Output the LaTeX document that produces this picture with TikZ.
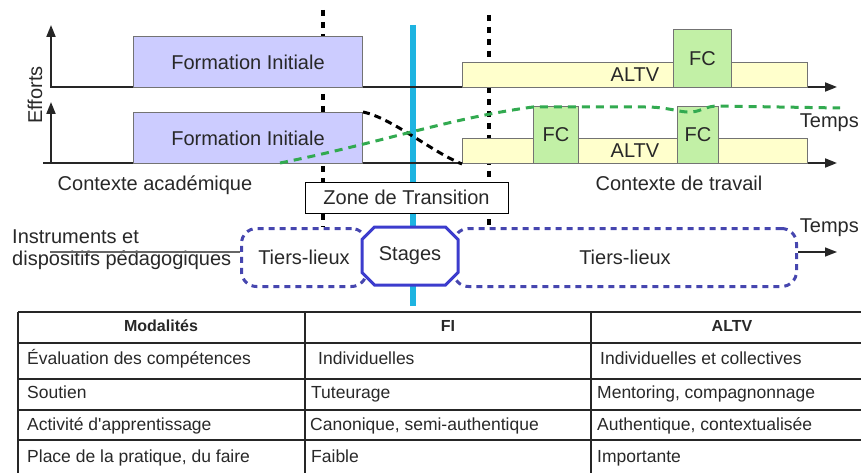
\documentclass[tikz,border=0pt]{standalone}
\usepackage{fontspec}
\setmainfont{Liberation Sans}
\usetikzlibrary{arrows.meta,positioning,shapes.misc}
\definecolor{filav}{RGB}{204,204,255}
\definecolor{altvyel}{RGB}{255,255,204}
\definecolor{fcgreen}{RGB}{194,240,166}
\definecolor{tlblue}{RGB}{70,70,175}
\definecolor{stblue}{RGB}{60,60,205}
\definecolor{cutcyan}{RGB}{30,180,225}
\definecolor{effgreen}{RGB}{50,170,80}
\definecolor{txtgray}{RGB}{40,40,40}

\begin{document}
\begin{tikzpicture}[x=1pt,y=-1pt,
    lbl/.style={font=\fontsize{20}{22}\selectfont, text=txtgray, inner sep=0pt},
    bar/.style={lbl, draw=black!55, line width=1pt, anchor=north west},
    fibox/.style={bar, fill=filav},
    altvbox/.style={bar, fill=altvyel},
    fcbox/.style={bar, fill=fcgreen},
    tlbox/.style={lbl, draw=tlblue, line width=3pt, dash pattern=on 6pt off 5pt,
                rounded corners=15pt, anchor=north west, minimum height=58pt},
    stagebox/.style={lbl, chamfered rectangle, chamfered rectangle xsep=13pt,
                draw=stblue, fill=white, line width=3pt, minimum width=96pt, minimum height=58pt},
    axis/.style={draw=black!85, line width=1.8pt, -{Triangle[length=12pt,width=9pt]}},
    cut/.style={draw=black, line width=3.2pt, dash pattern=on 6pt off 6pt},
    tabline/.style={draw=black!85, line width=1.2pt},
    hdr/.style={font=\fontsize{16}{18}\selectfont\bfseries, text=txtgray, inner sep=0pt, anchor=base},
    cell/.style={font=\fontsize{17.5}{20}\selectfont, text=txtgray, inner sep=0pt, anchor=base west}
  ]
  \useasboundingbox (0,0) rectangle (861,473);

  % context boundaries and the transition axis
  \draw[cut] (323,10) -- (323,227);
  \draw[cut] (489,15) -- (489,227);
  \draw[cutcyan, line width=6pt] (413,25) -- (413,306);

  % efforts axes
  \coordinate (o1) at (51,87);
  \coordinate (o2) at (51,163);
  \draw[axis] (o1) -- (51,25);
  \draw[axis] (50,87) -- (837,87);
  \draw[axis] (o2) -- (51,102);
  \draw[axis] (43,163) -- (837,163);
  \node[lbl, rotate=90] (eff) at (35,95) {Efforts};

  % upper track
  \node[fibox, minimum width=229pt, minimum height=51pt] (fi1) at (133,36) {Formation Initiale};
  \node[altvbox, minimum width=345pt, minimum height=25pt] (altv1) at (462,62) {ALTV};
  \node[fcbox, minimum width=58pt, minimum height=58pt] (fc1) at (673,29) {FC};

  % lower track
  \node[fibox, minimum width=229pt, minimum height=51pt] (fi2) at (133,112) {Formation Initiale};
  \node[altvbox, minimum width=345pt, minimum height=25pt] (altv2) at (462,138) {ALTV};
  \node[fcbox, minimum width=45pt, minimum height=57pt] (fc2) at (533,106) {FC};
  \node[fcbox, minimum width=41pt, minimum height=57pt] (fc3) at (677,106) {FC};

  % effort curves
  \draw[black, line width=3pt, dash pattern=on 7pt off 5pt]
    (fi2.north east) .. controls (392,118) and (432,152) .. (altv2.south west);
  \coordinate (g0) at (280,163);
  \coordinate (g1) at (840,108);
  \draw[effgreen, line width=3pt, dash pattern=on 8pt off 6pt]
    (g0) .. controls (380,143) and (450,118) .. (533,107) -- (645,107)
    .. controls (670,107) and (680,113) .. (692,112)
    .. controls (702,111) and (706,106) .. (718,106) -- (g1);

  \node[lbl, anchor=east] (temps1) at (859,123) {Temps};
  \node[lbl] (ctxa) at (155,185) {Contexte académique};
  \node[lbl] (ctxt) at (679,183) {Contexte de travail};
  \node[lbl, draw=black, fill=white, line width=1pt, minimum width=203pt, minimum height=31pt]
    (zone) at (406.5,197.5) {Zone de Transition};

  % instruments along time
  \node[lbl, align=left, anchor=west] (instr) at (12,250)
    {Instruments et\\dispositifs pédagogiques};
  \node[tlbox, minimum width=125pt] (tl1) at (240,227) {Tiers-lieux};
  \node[tlbox, minimum width=343pt] (tl2) at (452,227) {Tiers-lieux};
  \node[stagebox] (stg) at (410,256) {Stages};
  \coordinate (t0) at (50,252);
  \coordinate (t1) at (837,252);
  \draw[black!60, line width=1.5pt] (t0) -- (t0 -| tl1.west);
  \draw[black!85, line width=1.5pt, -{Triangle[length=12pt,width=9pt]}] (t1 -| tl2.east) -- (t1);
  \node[lbl, anchor=east] (temps2) at (859,228) {Temps};

  % comparison table
  \foreach \ry in {312,343,379,410,440}
    \draw[tabline] (18,\ry) -- (861,\ry);
  \foreach \cx in {18,305,591}
    \draw[tabline] (\cx,312) -- (\cx,473);

  \node[hdr] (h1) at (161,331) {Modalités};
  \node[hdr] (h2) at (448,331) {FI};
  \node[hdr] (h3) at (732,331) {ALTV};

  \node[cell] (r1a) at (27,364) {Évaluation des compétences};
  \node[cell] (r1b) at (318,364) {Individuelles};
  \node[cell] (r1c) at (600,364) {Individuelles et collectives};
  \node[cell] (r2a) at (27,398) {Soutien};
  \node[cell] (r2b) at (311,398) {Tuteurage};
  \node[cell] (r2c) at (597,398) {Mentoring, compagnonnage};
  \node[cell] (r3a) at (27,430) {Activité d\textquotesingle apprentissage};
  \node[cell] (r3b) at (310,430) {Canonique, semi-authentique};
  \node[cell] (r3c) at (597,430) {Authentique, contextualisée};
  \node[cell] (r4a) at (27,462) {Place de la pratique, du faire};
  \node[cell] (r4b) at (311,462) {Faible};
  \node[cell] (r4c) at (597,462) {Importante};
\end{tikzpicture}
\end{document}
